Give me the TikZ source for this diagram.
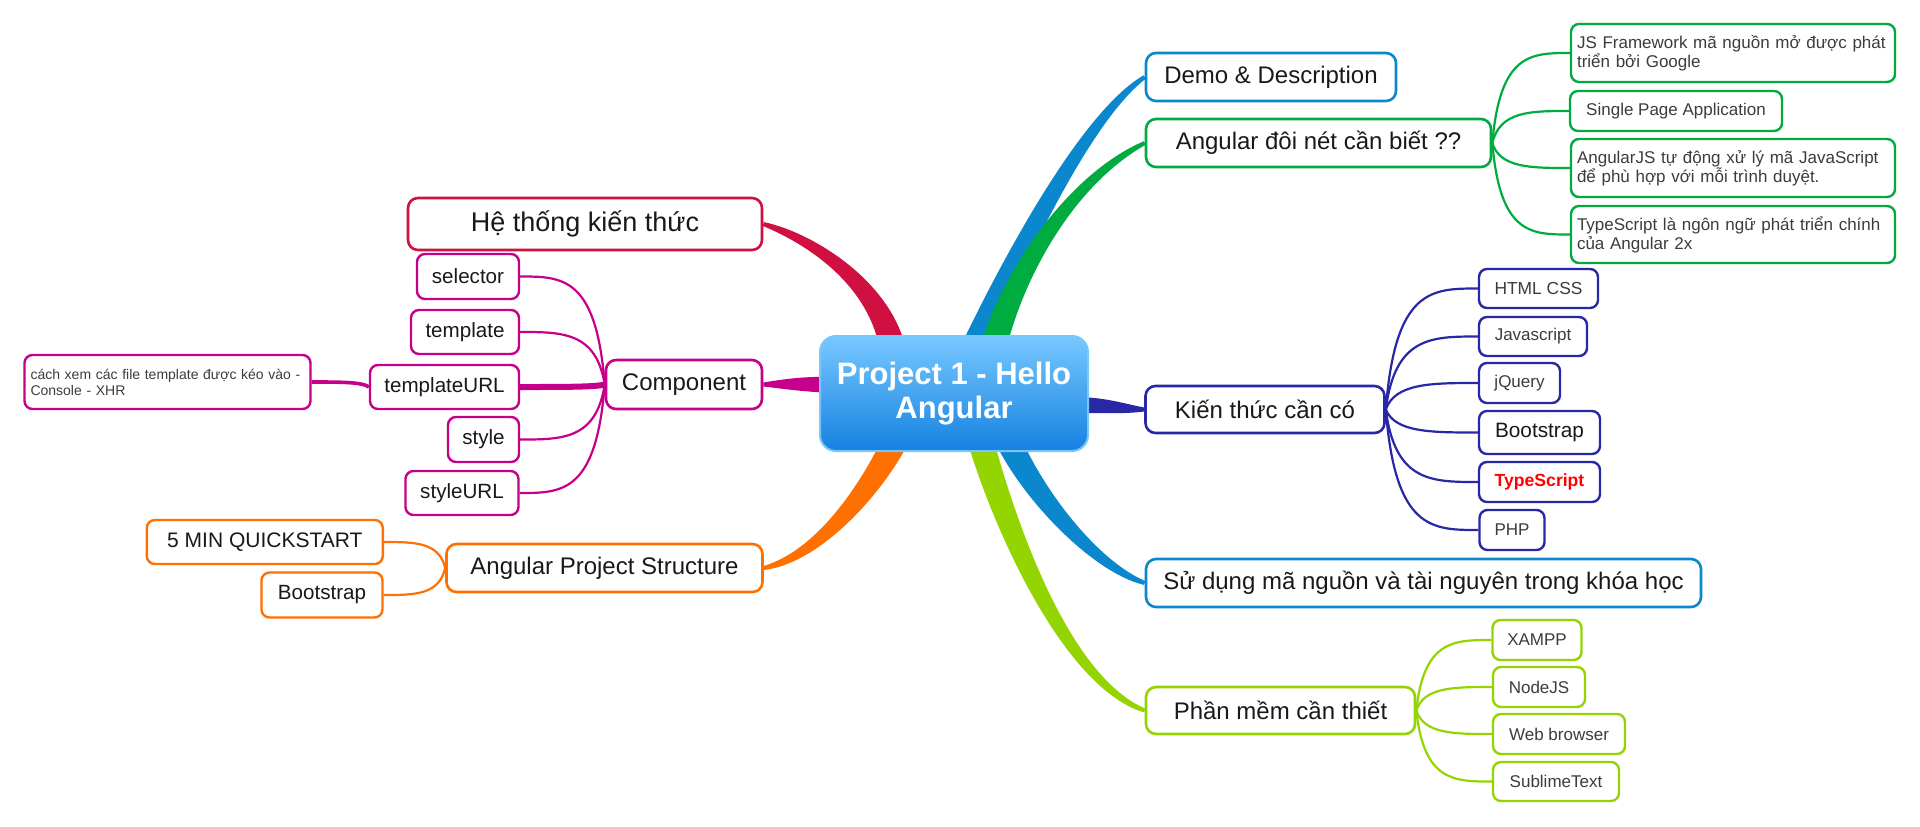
\documentclass[tikz,border=0pt]{standalone}
\usepackage{fontspec}
\setmainfont{Liberation Sans}
\usetikzlibrary{positioning}
\usetikzlibrary{calc}
\usetikzlibrary{backgrounds}

\definecolor{rootlight}{RGB}{120,200,255}
\definecolor{rootmid}{RGB}{30,160,250}
\definecolor{rootdark}{RGB}{20,130,225}
\definecolor{demoblue}{RGB}{10,135,205}
\definecolor{knowgreen}{RGB}{0,172,64}
\definecolor{skillnavy}{RGB}{40,40,166}
\definecolor{toollime}{RGB}{148,212,0}
\definecolor{sysred}{RGB}{208,16,64}
\definecolor{compmag}{RGB}{198,0,138}
\definecolor{projorange}{RGB}{255,112,0}
\definecolor{inkgrey}{RGB}{60,60,60}
\definecolor{inkdark}{RGB}{25,25,25}

% tapered branch: colour, p0, p1, p2, p3, half width at start, half width near end
\newcommand{\ribbon}[7]{%
  \fill[#1] ($(#2)!#6!90:(#3)$) .. controls ($(#3)!#6!-90:(#2)$) and ($(#4)!#7!90:(#5)$) .. ($(#5)!1pt!-90:(#4)$)
    -- ($(#5)!1pt!90:(#4)$) .. controls ($(#4)!#7!-90:(#5)$) and ($(#3)!#6!90:(#2)$) .. ($(#2)!#6!-90:(#3)$) -- cycle;}

\begin{document}
\begin{tikzpicture}[x=0.5pt, y=-0.5pt,
    rootbox/.style={draw=rootmid!60!white, line width=1pt, rounded corners=8pt, top color=rootlight, middle color=rootmid, bottom color=rootdark, text=white, font=\fontsize{15.5}{17}\selectfont\bfseries, align=center, minimum width=134pt, minimum height=57.5pt},
    topic/.style={draw=#1, line width=1.3pt, rounded corners=5pt, fill=white, text=inkdark, font=\fontsize{12}{14}\selectfont, inner sep=0pt},
    leaf/.style={draw=#1, line width=1.2pt, rounded corners=4pt, fill=white, text=inkgrey, font=\fontsize{8.5}{9.5}\selectfont, inner sep=0pt},
    note/.style={leaf=#1, align=left, inner xsep=3pt, inner ysep=0pt},
    twig/.style={draw=#1, line width=1.1pt, to path={let \p1=(\tikztostart), \p2=(\tikztotarget) in .. controls ({\x1+0.1*(\x2-\x1)},\y2) and ({\x1+0.5*(\x2-\x1)},\y2) .. (\tikztotarget)}}]
    \useasboundingbox (0,0) rectangle (1920,826);

    % Central topic
    \node (root) [rootbox] at (954,393.5) {Project 1 - Hello\\Angular};

    % Main topics on the right
    \node (demo) [topic=demoblue, minimum width=125pt, minimum height=24pt] at (1271,77) {Demo \& Description};
    \node (ang) [topic=knowgreen, minimum width=172.5pt, minimum height=24pt] at (1318.5,143) {Angular đôi nét cần biết ??};
    \node (skill) [topic=skillnavy, minimum width=119.5pt, minimum height=23.5pt] at (1265,409.5) {Kiến thức cần có};
    \node (src) [topic=demoblue, minimum width=277.5pt, minimum height=24pt] at (1423.5,583) {Sử dụng mã nguồn và tài nguyên trong khóa học};
    \node (soft) [topic=toollime, minimum width=134.5pt, minimum height=23.5pt] at (1280.5,710.5) {Phần mềm cần thiết};

    % Main topics on the left
    \node (sys) [topic=sysred, minimum width=177pt, minimum height=26pt, font=\fontsize{13.5}{16}\selectfont] at (585,224) {Hệ thống kiến thức};
    \node (comp) [topic=compmag, minimum width=78pt, minimum height=24.5pt] at (684,384.5) {Component};
    \node (struct) [topic=projorange, minimum width=158pt, minimum height=24pt] at (604.5,568) {Angular Project Structure};

    % Angular notes
    \node (fw) [note=knowgreen, text width=156pt, minimum height=29pt] at (1733,53) {JS Framework mã nguồn mở được phát\\triển bởi Google};
    \node (spa) [leaf=knowgreen, minimum width=106pt, minimum height=20pt] at (1676,111) {Single Page Application};
    \node (auto) [note=knowgreen, text width=156pt, minimum height=29pt] at (1733,168) {AngularJS tự động xử lý mã JavaScript\\để phù hợp với mỗi trình duyệt.};
    \node (tsnote) [note=knowgreen, text width=156pt, minimum height=28.5pt] at (1733,234.5) {TypeScript là ngôn ngữ phát triển chính\\của Angular 2x};

    % Skills
    \node (html) [leaf=skillnavy, minimum width=59.5pt, minimum height=19.5pt, font=\fontsize{8.7}{10}\selectfont] at (1538.5,288.5) {HTML CSS};
    \node (js) [leaf=skillnavy, minimum width=54pt, minimum height=19.5pt] at (1533,336.5) {Javascript};
    \node (jq) [leaf=skillnavy, minimum width=40.5pt, minimum height=20pt] at (1519.5,383) {jQuery};
    \node (boot) [leaf=skillnavy, minimum width=60.5pt, minimum height=21.5pt, text=inkdark, font=\fontsize{10.4}{12}\selectfont] at (1539.5,432.5) {Bootstrap};
    \node (ts) [leaf=skillnavy, minimum width=60.5pt, minimum height=20pt, text=red, font=\fontsize{8.8}{10}\selectfont\bfseries] at (1539.5,482) {TypeScript};
    \node (php) [leaf=skillnavy, minimum width=32.5pt, minimum height=20pt] at (1512,530) {PHP};

    % Software
    \node (xampp) [leaf=toollime, minimum width=44.5pt, minimum height=20pt] at (1537,640) {XAMPP};
    \node (nodejs) [leaf=toollime, minimum width=46pt, minimum height=20pt] at (1539,687) {NodeJS};
    \node (web) [leaf=toollime, minimum width=66pt, minimum height=20pt] at (1559,734) {Web browser};
    \node (sublime) [leaf=toollime, minimum width=63pt, minimum height=19.5pt] at (1556,781.5) {SublimeText};

    % Component parts
    \node (sel) [leaf=compmag, minimum width=51pt, minimum height=22.5pt, text=inkdark, font=\fontsize{10.3}{12}\selectfont] at (468,276.5) {selector};
    \node (tpl) [leaf=compmag, minimum width=54pt, minimum height=22pt, text=inkdark, font=\fontsize{10.3}{12}\selectfont] at (465,332) {template};
    \node (tplurl) [leaf=compmag, minimum width=74.5pt, minimum height=22pt, text=inkdark, font=\fontsize{10.3}{12}\selectfont] at (444.5,387) {templateURL};
    \node (sty) [leaf=compmag, minimum width=35.5pt, minimum height=22.5pt, text=inkdark, font=\fontsize{10.3}{12}\selectfont] at (483.5,439.5) {style};
    \node (styurl) [leaf=compmag, minimum width=56.5pt, minimum height=22pt, text=inkdark, font=\fontsize{10.3}{12}\selectfont] at (462,493) {styleURL};
    \node (xhr) [note=compmag, text width=137pt, minimum height=27pt, font=\fontsize{7}{8}\selectfont] at (167.5,382) {cách xem các file template được kéo vào -\\Console - XHR};

    % Project structure
    \node (quick) [leaf=projorange, minimum width=118pt, minimum height=22pt, text=inkdark, font=\fontsize{10.5}{12}\selectfont] at (264.8,542) {5 MIN QUICKSTART};
    \node (boot2) [leaf=projorange, minimum width=60.5pt, minimum height=22.5pt, text=inkdark, font=\fontsize{10.3}{12}\selectfont] at (322,595) {Bootstrap};

    % Thick branches from the centre
    \begin{pgfonlayer}{background}
        \fill[white] (0,0) rectangle (1920,826);
        \ribbon{sysred}{895,365}{890,290}{815,240}{sys.east}{6.5pt}{3.5pt}
        \ribbon{compmag}{835,385}{805,384}{785,384}{comp.east}{4pt}{2.5pt}
        \ribbon{projorange}{905,420}{880,480}{822,556}{struct.east}{6.5pt}{3.5pt}
        \ribbon{demoblue}{965,365}{1000,290}{1080,120}{demo.west}{6pt}{3.5pt}
        \ribbon{knowgreen}{990,365}{1000,300}{1060,185}{ang.west}{6.5pt}{3.5pt}
        \ribbon{skillnavy}{1075,405}{1105,405}{1125,409}{skill.west}{4pt}{2.5pt}
        \ribbon{demoblue}{1000,420}{1020,480}{1090,565}{src.west}{6.5pt}{3.5pt}
        \ribbon{toollime}{975,420}{995,500}{1060,680}{soft.west}{6.5pt}{3.5pt}
    \end{pgfonlayer}

    % Thin branches to the details
    \draw[twig=knowgreen] (ang.east) to (fw.west);
    \draw[twig=knowgreen] (ang.east) to (spa.west);
    \draw[twig=knowgreen] (ang.east) to (auto.west);
    \draw[twig=knowgreen] (ang.east) to (tsnote.west);
    \draw[twig=skillnavy] (skill.east) to (html.west);
    \draw[twig=skillnavy] (skill.east) to (js.west);
    \draw[twig=skillnavy] (skill.east) to (jq.west);
    \draw[twig=skillnavy] (skill.east) to (boot.west);
    \draw[twig=skillnavy] (skill.east) to (ts.west);
    \draw[twig=skillnavy] (skill.east) to (php.west);
    \draw[twig=toollime] (soft.east) to (xampp.west);
    \draw[twig=toollime] (soft.east) to (nodejs.west);
    \draw[twig=toollime] (soft.east) to (web.west);
    \draw[twig=toollime] (soft.east) to (sublime.west);
    \draw[twig=compmag] (comp.west) to (sel.east);
    \draw[twig=compmag] (comp.west) to (tpl.east);
    \draw[twig=compmag, line width=3pt] (comp.west) to (tplurl.east);
    \draw[twig=compmag] (comp.west) to (sty.east);
    \draw[twig=compmag] (comp.west) to (styurl.east);
    \draw[twig=compmag, line width=1.8pt] (tplurl.west) to (xhr.east);
    \draw[twig=projorange] (struct.west) to (quick.east);
    \draw[twig=projorange] (struct.west) to (boot2.east);
\end{tikzpicture}
\end{document}
